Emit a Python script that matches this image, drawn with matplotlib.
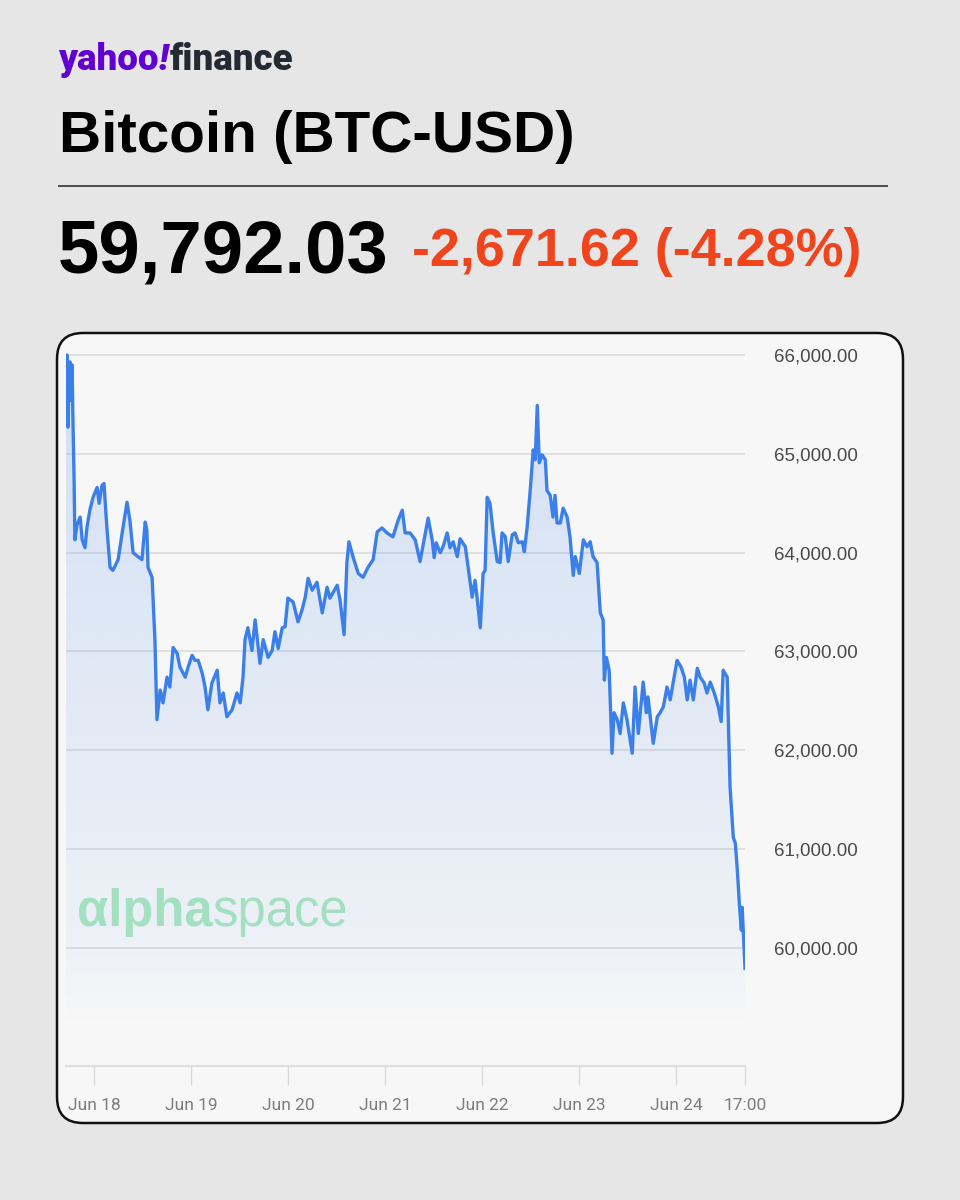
import numpy as np
import pandas as pd
import matplotlib
matplotlib.use("Agg")
import matplotlib.pyplot as plt
import matplotlib.dates as mdates
from matplotlib.patches import FancyBboxPatch

# ---------------- data ----------------
title = "Bitcoin (BTC-USD)"
last_price = "59,792.03"
change_text = "-2,671.62 (-4.28%)"

start_time = "2024-06-17 17:00"
# hours since start, BTC-USD price
hours = [0, 0.25, 0.5, 0.75, 1.0, 1.2, 1.5, 1.7, 2.0, 2.2, 2.7, 3.5, 4.0, 4.7, 5.2, 5.9, 6.7, 7.7, 8.2, 8.9,
         9.4, 10.1, 10.9, 11.6, 12.9, 13.9, 15.1, 15.8, 16.6, 17.8, 18.8, 19.6, 20.0, 20.3, 21.3, 22.0, 22.5, 23.3,
         24.0, 25.0, 25.7, 26.5, 27.5, 28.2, 29.5, 30.2, 31.2, 31.9, 32.7, 33.7, 34.4, 35.1, 36.1, 37.4, 38.1,
         38.9, 39.8, 41.1, 42.3, 43.1, 43.8, 44.3, 45.0, 46.0, 46.8, 48.0, 48.8, 50.0, 51.0, 51.7, 52.5, 53.5,
         54.2, 54.9, 56.2, 57.4, 58.4, 59.2, 59.9, 60.9, 62.1, 63.4, 64.6, 65.3, 67.1, 67.8, 68.8, 69.5, 70.0,
         71.0, 72.3, 73.5, 74.7, 76.0, 77.0, 78.2, 79.4, 80.9, 82.2, 83.2, 83.9, 85.1, 86.4, 87.6, 88.9, 89.6,
         90.6, 91.1, 91.6, 92.6, 93.3, 94.3, 95.0, 95.8, 96.8, 97.5, 98.8, 99.7, 100.5, 101.2, 101.7, 102.5,
         103.2, 103.7, 104.2, 104.9, 105.7, 106.7, 107.4, 107.9, 108.7, 109.4, 110.4, 111.1, 111.9, 112.9,
         113.4, 114.1, 114.8, 115.6, 116.1, 116.6, 117.1, 117.8, 118.6, 119.0, 119.8, 120.5, 121.0, 121.5,
         122.3, 123.0, 124.0, 124.7, 125.5, 126.0, 127.0, 128.0, 128.9, 129.7, 130.4, 131.4, 132.2, 132.9,
         133.2, 133.7, 134.4, 135.1, 135.6, 136.4, 137.1, 137.9, 138.8, 140.1, 140.8, 141.6, 142.8, 143.6,
         144.0, 145.3, 146.3, 147.0, 147.8, 148.7, 149.5, 150.2, 151.2, 152.2, 153.0, 153.7, 154.4, 155.2,
         156.2, 156.9, 157.9, 158.6, 159.4, 160.4, 161.4, 162.1, 162.6, 163.6, 164.3, 165.1, 165.6, 166.1,
         166.6, 167.1, 167.3, 168.0]
prices = [65850, 66000, 65270, 65900, 65930, 65540, 65900, 65390, 64740, 64130, 64280, 64360, 64130, 64050,
          64260, 64430, 64560, 64660, 64500, 64680, 64700, 64260, 63850, 63820, 63930, 64200, 64510, 64330,
          64000, 63960, 63930, 64310, 64230, 63850, 63750, 63120, 62310, 62610, 62480, 62740, 62640, 63040,
          62980, 62840, 62740, 62840, 62960, 62910, 62910, 62780, 62640, 62410, 62680, 62810, 62480, 62580,
          62340, 62410, 62580, 62480, 62740, 63120, 63240, 63010, 63320, 62880, 63120, 62940, 63010, 63200,
          63030, 63240, 63250, 63540, 63500, 63300, 63420, 63550, 63740, 63620, 63700, 63390, 63650, 63540,
          63670, 63520, 63170, 63900, 64110, 63960, 63790, 63750, 63850, 63930, 64210, 64250, 64200, 64160,
          64330, 64430, 64200, 64200, 64130, 63910, 64200, 64350, 64130, 63950, 64100, 64000, 64060, 64200,
          64050, 64110, 63960, 64140, 64060, 63790, 63550, 63720, 63550, 63240, 63790, 63820, 64560, 64500,
          64200, 63910, 63900, 64200, 64160, 63910, 64180, 64200, 64100, 64110, 64010, 64260, 64600, 65040,
          64940, 65490, 64910, 64990, 64940, 64630, 64580, 64360, 64580, 64300, 64300, 64450, 64360, 64160,
          63770, 63960, 63790, 64130, 64060, 64110, 63960, 63900, 63390, 63320, 62710, 62940, 62810, 61970,
          62380, 62310, 62170, 62480, 62310, 61970, 62640, 62170, 62690, 62380, 62540, 62070, 62340, 62380,
          62440, 62640, 62510, 62680, 62910, 62840, 62740, 62510, 62710, 62510, 62830, 62740, 62680, 62580,
          62690, 62580, 62440, 62290, 62810, 62740, 61630, 61120, 61060, 60790, 60450, 60180, 60410, 59792]

y_ticks = [60000, 61000, 62000, 63000, 64000, 65000, 66000]
x_tick_times = ["2024-06-18 00:00", "2024-06-19 00:00", "2024-06-20 00:00", "2024-06-21 00:00",
                "2024-06-22 00:00", "2024-06-23 00:00", "2024-06-24 00:00", "2024-06-24 17:00"]
x_tick_labels = ["Jun 18", "Jun 19", "Jun 20", "Jun 21", "Jun 22", "Jun 23", "Jun 24", "17:00"]

# ---------------- figure ----------------
W, H = 960, 1200
fig = plt.figure(figsize=(W / 100, H / 100), dpi=100)
fig.patch.set_facecolor("#e6e6e6")

bg = fig.add_axes([0, 0, 1, 1], zorder=0)
bg.set_xlim(0, W)
bg.set_ylim(H, 0)
bg.axis("off")

# header
logo_fs = 26.5
t_y = bg.text(58, 70, "yahoo", color="#6001d2", fontsize=logo_fs, fontweight="heavy",
              family=["Roboto", "DejaVu Sans"], va="baseline", ha="left")
fig.canvas.draw()
r = fig.canvas.get_renderer()
bb = t_y.get_window_extent(r)
t_ex = bg.text(bb.x1, 70, "!", color="#6001d2", fontsize=logo_fs, fontweight="heavy", style="italic",
               family=["Roboto", "DejaVu Sans"], va="baseline", ha="left")
bb2 = t_ex.get_window_extent(r)
bg.text(bb2.x1 + 1, 70, "finance", color="#232a31", fontsize=logo_fs, fontweight="heavy",
        family=["Roboto", "DejaVu Sans"], va="baseline", ha="left")

bg.text(59, 152, title, color="#000000", fontsize=42, fontweight="bold",
        family=["Liberation Sans", "DejaVu Sans"], va="baseline", ha="left")
bg.plot([58, 888], [186, 186], color="#222222", lw=1.1, solid_capstyle="butt")
bg.text(58, 273, last_price, color="#000000", fontsize=53.5, fontweight="bold",
        family=["Liberation Sans", "DejaVu Sans"], va="baseline", ha="left")
bg.text(412, 266, change_text, color="#f0451c", fontsize=38.8, fontweight="bold",
        family=["Liberation Sans", "DejaVu Sans"], va="baseline", ha="left")

# chart panel
panel = FancyBboxPatch((57, 333), 846, 790, boxstyle="round,pad=0,rounding_size=26",
                       facecolor="#f7f7f7", edgecolor="#111111", lw=1.8, zorder=1)
bg.add_patch(panel)

# ---------------- main axes ----------------
times = pd.Timestamp(start_time) + pd.to_timedelta(hours, unit="h")
xnum = mdates.date2num(times.to_pydatetime())
p = np.array(prices, dtype=float)

ax = fig.add_axes([66 / W, 1 - 1066 / H, (745 - 66) / W, (1066 - 340) / H], zorder=1)
ax.patch.set_visible(False)
ax.set_xlim(xnum[0], xnum[-1])
ax.set_ylim(58805, 66152)

fill_base = 59200
poly = ax.fill_between(xnum, p, fill_base, facecolor="none", edgecolor="none")
grad_vals = np.linspace(66152, fill_base, 300)
alpha = np.interp(grad_vals, [fill_base, 60000, 66152], [0.0, 0.05, 0.2])
img = np.zeros((300, 1, 4))
img[..., 0] = 0x3b / 255
img[..., 1] = 0x80 / 255
img[..., 2] = 0xea / 255
img[:, 0, 3] = alpha
im = ax.imshow(img, extent=[xnum[0], xnum[-1], fill_base, 66152], aspect="auto",
               origin="upper", zorder=1, interpolation="bilinear")
im.set_clip_path(poly.get_paths()[0], transform=ax.transData)

ax.plot(xnum, p, color="#3b80ea", lw=2.4, solid_joinstyle="round", zorder=3)

# watermark
wm_fs = 36.5
wm1 = ax.text(77, 926, "\u03b1lpha", color="#a2e0bf", fontsize=wm_fs, fontweight="bold",
              family=["Liberation Sans", "DejaVu Sans"], va="baseline", ha="left",
              transform=bg.transData, zorder=2)
fig.canvas.draw()
bbw = wm1.get_window_extent(fig.canvas.get_renderer())
ax.text(bbw.x1, 926, "space", color="#a2e0bf", fontsize=wm_fs,
        family=["Liberation Sans", "DejaVu Sans"], va="baseline", ha="left",
        transform=bg.transData, zorder=2)

# axes styling
for s in ["top", "left", "right"]:
    ax.spines[s].set_visible(False)
ax.spines["bottom"].set_color("#dedede")
ax.spines["bottom"].set_linewidth(1.5)

ax.set_yticks(y_ticks)
ax.set_yticklabels([f"{v:,.2f}" for v in y_ticks])
ax.yaxis.tick_right()
ax.tick_params(axis="y", length=0, pad=21, labelsize=13.5, labelcolor="#4a4a4a")
for lab in ax.get_yticklabels():
    lab.set_family(["Liberation Sans", "DejaVu Sans"])

xt = mdates.date2num(pd.to_datetime(x_tick_times, format="%Y-%m-%d %H:%M").to_pydatetime())
ax.set_xticks(xt)
ax.set_xticklabels(x_tick_labels)
ax.tick_params(axis="x", length=14, width=1, color="#dadada", pad=9, labelsize=12.5,
               labelcolor="#7d7d7d", direction="out")
for lab in ax.get_xticklabels():
    lab.set_family(["Roboto", "DejaVu Sans"])

ax.set_axisbelow(True)
ax.grid(axis="y", color="#dcdcdc", lw=1.2)
ax.grid(axis="x", visible=False)

fig.savefig("out.png", dpi=100, facecolor=fig.get_facecolor())
